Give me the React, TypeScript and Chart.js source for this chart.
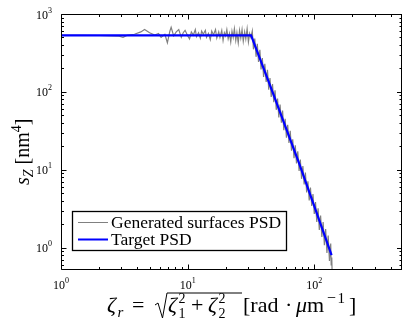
import React, { useEffect, useRef } from "react";
import { Chart, registerables } from "chart.js";

Chart.register(...registerables);

// ---- data ----
const GRAY_X = [
  1, 1.41, 2, 2.51, 2.88, 3.09, 3.31, 3.8, 4.27, 4.57, 5.01, 5.5, 5.89, 6.17, 6.61,
  6.92, 7.24, 7.41, 7.76, 8.13, 8.51, 8.91, 9.23, 9.55, 10, 10.35, 10.7, 11.1, 11.5,
  11.75, 12.2, 12.6, 12.9, 13.3, 13.8, 14.1, 14.6, 15.1, 15.5, 16, 16.6, 17, 17.6, 18,
  18.6, 19.05, 19.5, 19.95, 20.4, 20.9, 21.4, 21.9, 22.4, 22.9, 23.4, 24, 24.5, 25.1,
  25.7, 26.3, 26.9, 27.5, 28.2, 28.8, 29.5, 30.2, 30.9, 31.6,
  32.4, 33.1, 33.9, 34.7, 35.5, 36.3, 37.2, 38, 38.9, 39.8, 40.7, 41.7, 42.7, 43.7,
  44.7, 45.7, 46.8, 47.9, 49, 50.1, 51.3, 52.5, 53.7, 55, 56.2, 57.5, 58.9, 60.3, 61.7,
  63.1, 64.6, 66.1, 67.6, 69.2, 70.8, 72.4, 74.1, 75.9, 77.6, 79.4, 81.3, 83.2, 85.1,
  87.1, 89.1, 91.2, 93.3, 95.5, 97.7, 100, 102.3, 104.7, 107.2, 109.6, 112.2, 114.8,
  117.5, 120.2, 123, 125.9, 128.8, 131.8, 134.9, 136, 137.5, 138.5,
];
const GRAY_Y = [
  532, 532, 530, 525, 519, 501, 531, 550, 589, 631, 575, 537, 562, 501, 550,
  427, 603, 676, 525, 589, 631, 501, 575, 617, 525, 479, 589, 537, 631,
  513, 575, 490, 603, 550, 617, 501, 562, 468, 603, 537, 631, 490, 589, 501,
  617, 457, 575, 525, 631, 479, 562, 437, 603, 501, 646, 457, 575, 427,
  617, 490, 631, 447, 589, 479, 646, 437, 562, 501,
  603, 352, 483, 282, 414, 242, 348, 194, 272, 156, 229, 134, 192, 107,
  151, 85.9, 126, 73.6, 105, 58.9, 82.4, 47.0, 69.0, 40.3, 57.8, 32.2, 45.1, 25.8, 37.8,
  22.1, 31.6, 17.6, 24.7, 14.1, 20.7, 12.1, 17.3, 9.66, 13.5, 7.66, 11.2, 6.49, 9.25,
  5.13, 7.14, 4.05, 5.9, 3.43, 4.89, 2.71, 3.86, 2.14, 3.2, 1.69, 2.58, 1.37,
  2.14, 1.08, 1.73, 0.855, 1.43, 0.676, 1.13, 0.6, 0.75, 0.45,
];
const BLUE_X = [1, 31.7, 44.3, 76.2, 137];
const BLUE_Y = [532, 532, 127, 11.9, 0.805];

const LEGEND_LABELS = ["Generated surfaces PSD", "Target PSD"];
const X_MAJOR = [1, 10, 100];
const Y_MAJOR = [1, 10, 100, 1000];
const X_MIN = 1;
const X_MAX = 493;
const Y_MIN = 0.525;
const Y_MAX = 1000;

const GRAY = "#808080";
const BLUE = "#0000ff";
const SERIF = '"Liberation Serif", "Times New Roman", serif';

type Run = { t?: string; size?: number; it?: boolean; dy?: number; stay?: boolean; gap?: number; at?: number };

function fnt(size: number, it?: boolean) {
  return `${it ? "italic " : ""}${size}px ${SERIF}`;
}

function drawRuns(ctx: CanvasRenderingContext2D, x: number, y: number, runs: Run[], draw = true) {
  for (const r of runs) {
    if (r.at !== undefined) x = r.at;
    if (r.gap) x += r.gap;
    if (!r.t) continue;
    ctx.font = fnt(r.size || 20, r.it);
    if (draw) ctx.fillText(r.t, x, y + (r.dy || 0));
    if (!r.stay) x += ctx.measureText(r.t).width;
  }
  return x;
}

function minorTicks(min: number, max: number) {
  const out: number[] = [];
  for (let d = -1; d <= 3; d++) {
    for (let k = 2; k <= 9; k++) {
      const v = k * Math.pow(10, d);
      if (v > min && v < max) out.push(v);
    }
  }
  return out;
}

const decorPlugin = {
  id: "decor",
  afterDraw(chart: any) {
    const ctx: CanvasRenderingContext2D = chart.ctx;
    const a = chart.chartArea;
    const xs = chart.scales.x;
    const ys = chart.scales.y;
    ctx.save();
    ctx.strokeStyle = "#000";
    ctx.fillStyle = "#000";
    ctx.lineWidth = 1;
    const L = Math.round(a.left) + 0.5;
    const R = a.right;
    const T = Math.round(a.top) + 0.5;
    const B = Math.floor(a.bottom) + 0.5;

    // frame
    ctx.beginPath();
    ctx.moveTo(L, T);
    ctx.lineTo(R, T);
    ctx.moveTo(L, T);
    ctx.lineTo(L, B);
    ctx.moveTo(L, B);
    ctx.lineTo(R, B);
    ctx.moveTo(R - 0.5, T);
    ctx.lineTo(R - 0.5, B);
    ctx.stroke();

    // ticks (inward, mirrored)
    const tick = (v: number, len: number, axis: "x" | "y") => {
      ctx.beginPath();
      if (axis === "x") {
        const p = Math.round(xs.getPixelForValue(v)) + 0.5;
        ctx.moveTo(p, B);
        ctx.lineTo(p, B - len);
        ctx.moveTo(p, T);
        ctx.lineTo(p, T + len);
      } else {
        const p = Math.round(ys.getPixelForValue(v)) + 0.5;
        ctx.moveTo(L, p);
        ctx.lineTo(L + len, p);
        ctx.moveTo(R, p);
        ctx.lineTo(R - len, p);
      }
      ctx.stroke();
    };
    X_MAJOR.forEach((v) => tick(v, 5, "x"));
    minorTicks(X_MIN, X_MAX).forEach((v) => tick(v, 2.5, "x"));
    Y_MAJOR.forEach((v) => tick(v, 5, "y"));
    minorTicks(Y_MIN, Y_MAX).forEach((v) => tick(v, 2.5, "y"));

    // tick labels
    ctx.textBaseline = "alphabetic";
    ctx.textAlign = "left";
    X_MAJOR.forEach((v) => {
      const e = String(Math.round(Math.log10(v)));
      const runs: Run[] = [{ t: "10", size: 12 }, { t: e, size: 8, dy: -6 }];
      const w = drawRuns(ctx, 0, 0, runs, false);
      const p = xs.getPixelForValue(v);
      drawRuns(ctx, p - w / 2, 289, runs);
    });
    Y_MAJOR.forEach((v) => {
      const e = String(Math.round(Math.log10(v)));
      const runs: Run[] = [{ t: "10", size: 12 }, { t: e, size: 8, dy: -6 }];
      const w = drawRuns(ctx, 0, 0, runs, false);
      const p = ys.getPixelForValue(v);
      drawRuns(ctx, 52 - w, p + 4.5, runs);
    });

    // x axis title
    const base = 312;
    drawRuns(ctx, 107, base, [
      { at: 107, t: "ζ", size: 22, it: true },
      { at: 117.5, t: "r", size: 15, it: true, dy: 5 },
      { at: 132, t: "=", size: 22 },
      { at: 168, t: "ζ", size: 22, it: true },
      { at: 178.5, t: "1", size: 14, dy: 6 },
      { at: 178.5, t: "2", size: 14, dy: -9 },
      { at: 191, t: "+", size: 22 },
      { at: 208, t: "ζ", size: 22, it: true },
      { at: 218.5, t: "2", size: 14, dy: 6 },
      { at: 218.5, t: "2", size: 14, dy: -9 },
      { at: 243, t: "[rad", size: 22 },
      { at: 285, t: "·", size: 22 },
      { at: 296, t: "μ", size: 22, it: true },
      { at: 307, t: "m", size: 22 },
      { at: 327, t: "−", size: 16, dy: -9 },
      { at: 337.5, t: "1", size: 15, dy: -9 },
      { at: 349, t: "]", size: 22 },
    ]);
    ctx.beginPath();
    ctx.lineWidth = 1;
    const radX = 155;
    ctx.moveTo(radX, base - 7);
    ctx.lineTo(radX + 3, base - 9);
    ctx.lineTo(radX + 7.5, base + 6);
    ctx.lineTo(radX + 12, base - 19);
    ctx.lineTo(242, base - 19);
    ctx.stroke();

    // y axis title
    ctx.save();
    ctx.translate(29, 185);
    ctx.rotate(-Math.PI / 2);
    drawRuns(ctx, 0, 0, [
      { t: "s", size: 20, it: true },
      { t: "Z", size: 14, it: true, dy: 4 },
      { gap: 5, t: "[nm", size: 20 },
      { t: "4", size: 14, dy: -8 },
      { t: "]", size: 20 },
    ]);
    ctx.restore();

    // legend
    const lx = 72.5, ly = 211.5, lw = 214, lh = 39;
    ctx.fillStyle = "#fff";
    ctx.fillRect(lx, ly, lw, lh);
    ctx.strokeStyle = "#000";
    ctx.lineWidth = 1.3;
    ctx.strokeRect(lx, ly, lw, lh);
    const rows = [
      { label: chart.data.datasets[1].label, color: GRAY, w: 1, y: 222.5 },
      { label: chart.data.datasets[0].label, color: BLUE, w: 2, y: 239.5 },
    ];
    rows.forEach((r) => {
      ctx.beginPath();
      ctx.strokeStyle = r.color;
      ctx.lineWidth = r.w;
      ctx.moveTo(78, r.y);
      ctx.lineTo(108, r.y);
      ctx.stroke();
      ctx.fillStyle = "#000";
      ctx.font = fnt(17.5);
      ctx.textBaseline = "middle";
      ctx.fillText(r.label, 111, r.y + 1);
    });
    ctx.restore();
  },
};

export default function App() {
  const ref = useRef<HTMLCanvasElement>(null);
  useEffect(() => {
    document.body.style.margin = "0";
    const chart = new Chart(ref.current as HTMLCanvasElement, {
      type: "line",
      data: {
        datasets: [
          {
            label: LEGEND_LABELS[1],
            data: BLUE_X.map((x, i) => ({ x, y: BLUE_Y[i] })),
            borderColor: BLUE,
            borderWidth: 2.2,
            pointRadius: 0,
            tension: 0,
            order: 1,
          },
          {
            label: LEGEND_LABELS[0],
            data: GRAY_X.map((x, i) => ({ x, y: GRAY_Y[i] })),
            borderColor: GRAY,
            borderWidth: 1.2,
            pointRadius: 0,
            tension: 0,
            order: 2,
          },
        ],
      },
      options: {
        responsive: false,
        maintainAspectRatio: false,
        animation: false,
        devicePixelRatio: 1,
        layout: { padding: { left: 61, right: -1, top: 14, bottom: 53.5 } },
        plugins: { legend: { display: false }, tooltip: { enabled: false } },
        scales: {
          x: { type: "logarithmic", min: X_MIN, max: X_MAX, display: false },
          y: { type: "logarithmic", min: Y_MIN, max: Y_MAX, display: false },
        },
      },
      plugins: [decorPlugin],
    } as any);
    return () => chart.destroy();
  }, []);
  return (
    <div style={{ width: 402, height: 323 }}>
      <style>{`body{margin:0}`}</style>
      <canvas ref={ref} width={402} height={323} style={{ display: "block" }} />
    </div>
  );
}
